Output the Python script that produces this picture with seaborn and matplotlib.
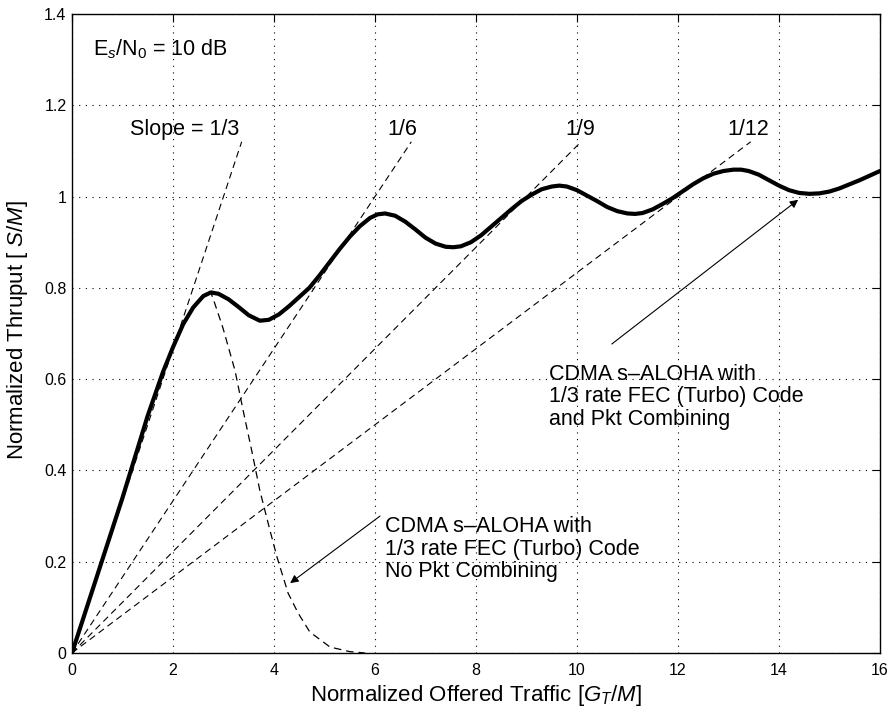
import numpy as np
import pandas as pd
import matplotlib
matplotlib.use("Agg")
import matplotlib.pyplot as plt
import seaborn as sns

# ---------------- data ----------------
combined_x = [0.0, 0.5, 1.0, 1.5, 1.8, 2.0, 2.2, 2.4, 2.6, 2.75, 2.9, 3.1, 3.3, 3.5,
              3.72, 3.9, 4.1, 4.3, 4.5, 4.7, 4.9, 5.1, 5.3, 5.5, 5.7, 5.9, 6.05, 6.2,
              6.4, 6.6, 6.8, 7.0, 7.2, 7.4, 7.55, 7.7, 7.9, 8.1, 8.3, 8.5, 8.7, 8.9,
              9.1, 9.3, 9.5, 9.65, 9.8, 10.0, 10.2, 10.4, 10.6, 10.8, 11.0, 11.15,
              11.3, 11.5, 11.7, 11.9, 12.1, 12.3, 12.5, 12.7, 12.9, 13.1, 13.25, 13.4,
              13.6, 13.8, 14.0, 14.2, 14.4, 14.6, 14.8, 15.0, 15.2, 15.4, 15.6, 15.8,
              16.0]
combined_y = [0.0, 0.17, 0.34, 0.52, 0.615, 0.67, 0.72, 0.757, 0.782, 0.79, 0.787,
              0.775, 0.758, 0.74, 0.728, 0.73, 0.742, 0.76, 0.78, 0.80, 0.827, 0.856,
              0.885, 0.912, 0.935, 0.953, 0.961, 0.963, 0.958, 0.945, 0.928, 0.91,
              0.897, 0.89, 0.889, 0.891, 0.90, 0.915, 0.934, 0.953, 0.972, 0.99,
              1.004, 1.016, 1.022, 1.024, 1.022, 1.014, 1.002, 0.99, 0.977, 0.968,
              0.963, 0.962, 0.964, 0.972, 0.984, 0.997, 1.012, 1.027, 1.04, 1.05,
              1.056, 1.059, 1.059, 1.056, 1.048, 1.036, 1.024, 1.014, 1.008, 1.006,
              1.007, 1.011, 1.018, 1.027, 1.036, 1.046, 1.056]

nocomb_x = [0.0, 0.5, 1.0, 1.5, 1.8, 2.0, 2.2, 2.4, 2.6, 2.75, 2.83, 2.99, 3.23,
            3.39, 3.56, 3.72, 3.92, 4.06, 4.28, 4.48, 4.71, 5.11, 5.5, 5.8]
nocomb_y = [0.0, 0.17, 0.34, 0.52, 0.615, 0.67, 0.72, 0.757, 0.782, 0.79, 0.765,
            0.712, 0.618, 0.531, 0.443, 0.356, 0.269, 0.21, 0.131, 0.087, 0.046,
            0.013, 0.003, 0.0]

slopes = [1/3, 1/6, 1/9, 1/12]
slope_labels = ["Slope = 1/3", "1/6", "1/9", "1/12"]
slope_top = 1.12

x_ticks = [0, 2, 4, 6, 8, 10, 12, 14, 16]
y_ticks = [0, 0.2, 0.4, 0.6, 0.8, 1.0, 1.2, 1.4]
y_tick_labels = ["0", "0.2", "0.4", "0.6", "0.8", "1", "1.2", "1.4"]

# ---------------- style ----------------
sns.set_style("white")
plt.rcParams["font.family"] = ["Liberation Sans", "DejaVu Sans"]
plt.rcParams["mathtext.fontset"] = "custom"
plt.rcParams["mathtext.rm"] = "Liberation Sans"
plt.rcParams["mathtext.it"] = "Liberation Sans:italic"
plt.rcParams["mathtext.bf"] = "Liberation Sans:bold"
plt.rcParams["text.color"] = "black"
plt.rcParams["axes.labelcolor"] = "black"

fig = plt.figure(figsize=(8.92, 7.11), dpi=100)
ax = fig.add_axes([0.0807, 0.0816, 0.9058, 0.8987])

# slope reference lines
for s in slopes:
    xe = slope_top / s
    df = pd.DataFrame({"x": [0.0, xe], "y": [0.0, slope_top]})
    sns.lineplot(data=df, x="x", y="y", ax=ax, color="black", lw=0.8,
                 linestyle=(0, (6, 4)), sort=False)

# no packet combining curve (dashed)
df_nc = pd.DataFrame({"x": nocomb_x, "y": nocomb_y})
sns.lineplot(data=df_nc, x="x", y="y", ax=ax, color="black", lw=0.9,
             linestyle=(0, (6, 4)), sort=False)

# packet combining curve (thick)
df_c = pd.DataFrame({"x": combined_x, "y": combined_y})
sns.lineplot(data=df_c, x="x", y="y", ax=ax, color="black", lw=3.0, sort=False)
for ln in ax.get_lines():
    ln.set_solid_joinstyle("round")
    ln.set_solid_capstyle("round")

ax.set_xlim(0, 16)
ax.set_ylim(0, 1.4)
ax.set_xticks(x_ticks)
ax.set_xticklabels([str(t) for t in x_ticks])
ax.set_yticks(y_ticks)
ax.set_yticklabels(y_tick_labels)
ax.tick_params(direction="in", length=6, width=0.8, top=True, right=True,
               labelsize=11.5, colors="black")
ax.tick_params(axis="x", pad=7)
ax.tick_params(axis="y", pad=4)
for sp in ax.spines.values():
    sp.set_color("black")
    sp.set_linewidth(1.0)
ax.grid(True, color="black", linestyle=(0, (1, 5)), linewidth=0.8)

ax.set_xlabel(r"Normalized Offered Traffic [$G_T$/$M$]", fontsize=16)
ax.set_ylabel(r"Normalized Thruput [ $S$/$M$]", fontsize=16)
ax.xaxis.set_label_coords(0.5, -0.047)
ax.yaxis.set_label_coords(-0.052, 0.505)

# texts
ax.text(0.42, 1.323, r"E$_s$/N$_0$ = 10 dB", fontsize=15.5, ha="left", va="center")
label_x = [2.24, 6.55, 10.06, 13.4]
for lx, t in zip(label_x, slope_labels):
    ax.text(lx, 1.148, t, fontsize=15.5, ha="center", va="center")

ax.text(9.45, 0.561, "CDMA s\u2013ALOHA with\n1/3 rate FEC (Turbo) Code\nand Pkt Combining",
        fontsize=15.5, ha="left", va="center", linespacing=1.1)
ax.annotate("", xy=(14.38, 0.993), xytext=(10.69, 0.677),
            arrowprops=dict(arrowstyle="-|>", color="black", lw=0.8,
                            mutation_scale=12, shrinkA=0, shrinkB=0))

ax.text(6.2, 0.227, "CDMA s\u2013ALOHA with\n1/3 rate FEC (Turbo) Code\nNo Pkt Combining",
        fontsize=15.5, ha="left", va="center", linespacing=1.1)
ax.annotate("", xy=(4.32, 0.153), xytext=(6.1, 0.30),
            arrowprops=dict(arrowstyle="-|>", color="black", lw=0.8,
                            mutation_scale=12, shrinkA=0, shrinkB=0))

fig.savefig("out.png", dpi=100)
